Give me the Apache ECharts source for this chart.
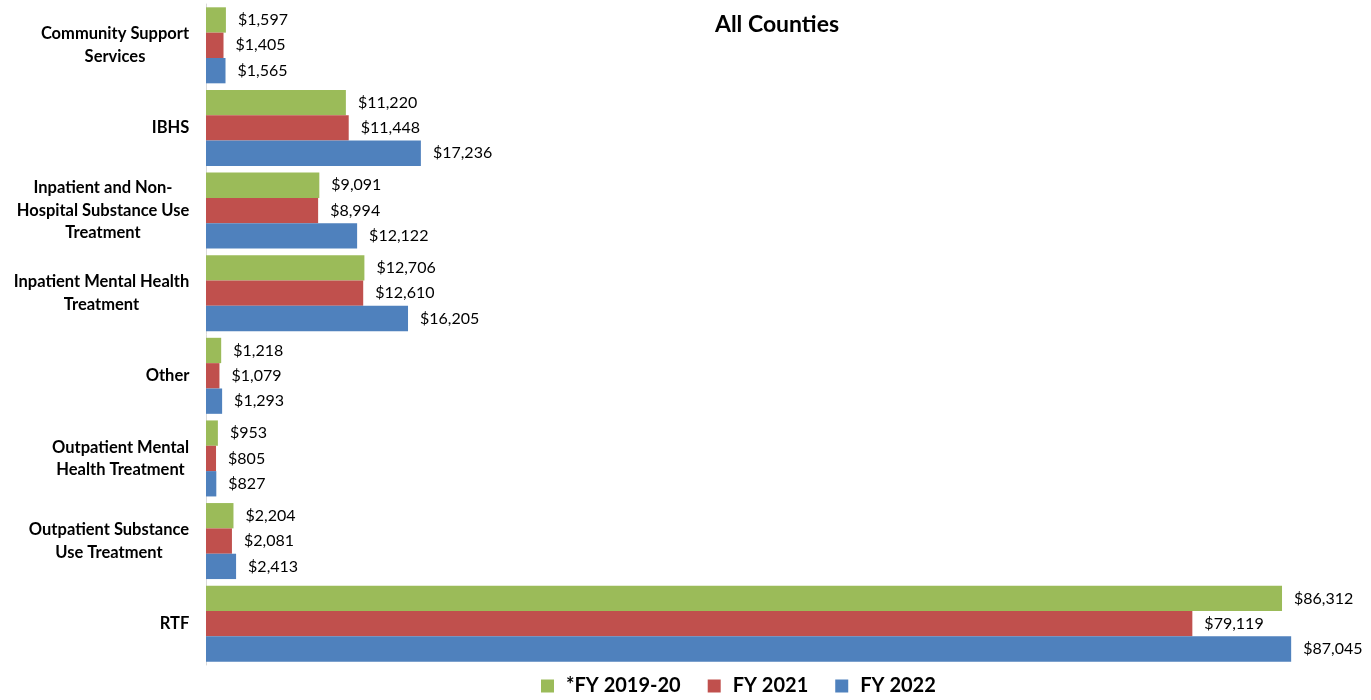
<!DOCTYPE html>
<html><head><meta charset="utf-8">
<script src="https://cdn.jsdelivr.net/npm/echarts@6/dist/echarts.min.js"></script>
<style>html,body{margin:0;padding:0;background:#fff}#c{width:1371px;height:700px}</style>
</head><body><div id="c"></div>
<script>
const categories = ['Community Support\nServices','IBHS','Inpatient and Non-\nHospital Substance Use\nTreatment','Inpatient Mental Health\nTreatment','Other','Outpatient Mental\nHealth Treatment','Outpatient Substance\nUse Treatment','RTF'];
const seriesNames = ['*FY 2019-20','FY 2021','FY 2022'];
const fy2019 = [1597, 11220, 9091, 12706, 1218, 953, 2204, 86312];
const fy2021 = [1405, 11448, 8994, 12610, 1079, 805, 2081, 79119];
const fy2022 = [1565, 17236, 12122, 16205, 1293, 827, 2413, 87045];
const colors = ['#9BBB59','#C0504D','#4F81BD'];
const font = 'Lato, "Open Sans", sans-serif';
const catFontSize = 16.5;
const fmt = v => '$' + v.value.toLocaleString('en-US');

// measure label blocks so lines are centred within a right-aligned block
const ctx = document.createElement('canvas').getContext('2d');
ctx.font = 'bold ' + catFontSize + 'px ' + font;
const rich = {};
categories.forEach((c, i) => {
  const w = Math.max(...c.split('\n').map(s => ctx.measureText(s).width));
  rich['c' + i] = {width: Math.ceil(w) + 1, align: 'center', fontSize: catFontSize, fontWeight: 'bold',
    color: '#000', fontFamily: font, lineHeight: 22.5};
});

const mk = (name, data, color) => ({
  name, type: 'bar', data, barGap: '0%', barCategoryGap: '8%',
  itemStyle: {color},
  label: {show: true, position: 'right', distance: 12, formatter: fmt, color: '#000', fontSize: 16, fontFamily: font}
});
const chart = echarts.init(document.getElementById('c'));
chart.setOption({
  animation: false,
  title: {text: 'All Counties', left: 772, top: 8, textAlign: 'center',
    textStyle: {fontSize: 23, fontWeight: 'bold', color: '#000', fontFamily: font}},
  legend: {bottom: 4, left: 541, padding: 0, itemWidth: 13, itemHeight: 13, itemGap: 27, icon: 'rect',
    textStyle: {fontSize: 20, fontWeight: 'bold', color: '#000', fontFamily: font, padding: [0, 0, 0, 7]},
    data: seriesNames},
  grid: {left: 206, top: 4, bottom: 35, right: 43, containLabel: false},
  xAxis: {type: 'value', min: 0, max: 90000, show: false},
  yAxis: {type: 'category', data: categories, inverse: true,
    axisLine: {show: true, lineStyle: {color: '#D9D9D9'}}, axisTick: {show: false},
    axisLabel: {margin: 16, align: 'right',
      formatter: (v, i) => v.split('\n').map(s => '{c' + i + '|' + s + '}').join('\n'),
      rich}},
  series: [mk(seriesNames[0], fy2019, colors[0]), mk(seriesNames[1], fy2021, colors[1]), mk(seriesNames[2], fy2022, colors[2])]
});
</script></body></html>
